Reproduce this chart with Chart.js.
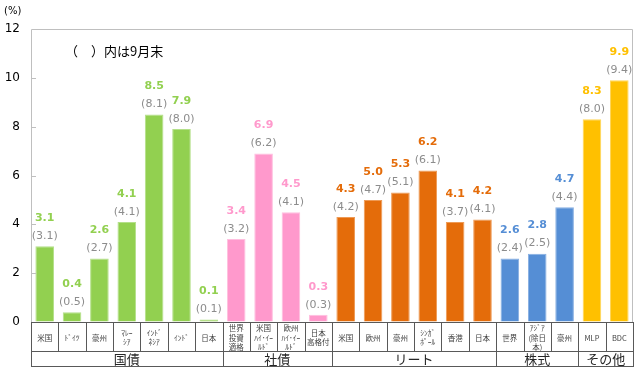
<!DOCTYPE html>
<html>
<head>
<meta charset="utf-8">
<script src="https://cdn.jsdelivr.net/npm/chart.js@4"></script>
<style>
  html, body { margin: 0; padding: 0; background: #fff; }
  #wrap { width: 640px; height: 372px; }
</style>
</head>
<body>
<div id="wrap"><canvas id="grafico"></canvas></div>
<script>
// categorias (linhas quebradas como no original)
var categorias = [
  ['米国'], ['ﾄﾞｲﾂ'], ['豪州'], ['ﾏﾚｰ', 'ｼｱ'], ['ｲﾝﾄﾞ', 'ﾈｼｱ'], ['ｲﾝﾄﾞ'], ['日本'],
  ['世界', '投資', '適格'], ['米国', 'ﾊｲ･ｲｰ', 'ﾙﾄﾞ'], ['欧州', 'ﾊｲ･ｲｰ', 'ﾙﾄﾞ'], ['日本', '高格付'],
  ['米国'], ['欧州'], ['豪州'], ['ｼﾝｶﾞ', 'ﾎﾟｰﾙ'], ['香港'], ['日本'],
  ['世界'], ['ｱｼﾞｱ', '(除日', '本)'], ['豪州'],
  ['MLP'], ['BDC']
];
var grupos = ['国債', '社債', 'リート', '株式', 'その他'];
var tamanhoGrupos = [7, 4, 6, 3, 2];
var coresGrupos = ['#92D050', '#FF99CC', '#E46C0A', '#558ED5', '#FFC000'];
var bordasGrupos = ['#B4E08A', '#FFBFDF', '#EE9A55', '#86AEE2', '#FFD659'];

var valoresAtuais = [3.1, 0.4, 2.6, 4.1, 8.5, 7.9, 0.1,
  3.4, 6.9, 4.5, 0.3,
  4.3, 5.0, 5.3, 6.2, 4.1, 4.2,
  2.6, 2.8, 4.7,
  8.3, 9.9];
var valoresSetembro = [3.1, 0.5, 2.7, 4.1, 8.1, 8.0, 0.1,
  3.2, 6.2, 4.1, 0.3,
  4.2, 4.7, 5.1, 6.1, 3.7, 4.1,
  2.4, 2.5, 4.4,
  8.0, 9.4];
var ticksY = [0, 2, 4, 6, 8, 10, 12];

var cores = [];
var bordas = [];
var grupoDe = [];
for (var g = 0; g < grupos.length; g++) {
  for (var k = 0; k < tamanhoGrupos[g]; k++) {
    cores.push(coresGrupos[g]);
    bordas.push(bordasGrupos[g]);
    grupoDe.push(g);
  }
}

var fonteJP = '"Noto Sans CJK JP", "Noto Sans", sans-serif';

// rotulos de valor acima das barras
var rotulos = {
  id: 'rotulos',
  afterDatasetsDraw: function (chart) {
    var ctx = chart.ctx;
    var meta = chart.getDatasetMeta(0);
    ctx.save();
    ctx.textAlign = 'center';
    ctx.textBaseline = 'middle';
    for (var i = 0; i < meta.data.length; i++) {
      var bar = meta.data[i];
      ctx.font = '11px "DejaVu Sans", sans-serif';
      ctx.fillStyle = '#8C8C8C';
      ctx.fillText('(' + valoresSetembro[i].toFixed(1) + ')', bar.x, bar.y - 10);
      ctx.font = 'bold 11px "DejaVu Sans", sans-serif';
      ctx.fillStyle = cores[i];
      ctx.fillText(valoresAtuais[i].toFixed(1), bar.x, bar.y - 28);
    }
    ctx.restore();
  }
};

// moldura, marcas do eixo y, tabela de categorias
var moldura = {
  id: 'moldura',
  afterDraw: function (chart) {
    var ctx = chart.ctx;
    var area = chart.chartArea;
    var x = chart.scales.x;
    var y = chart.scales.y;
    ctx.save();
    ctx.lineWidth = 1;

    ctx.strokeStyle = '#BFBFBF';
    ctx.beginPath();
    ctx.moveTo(area.left + 0.5, area.bottom);
    ctx.lineTo(area.left + 0.5, area.top + 0.5);
    ctx.lineTo(area.right - 0.5, area.top + 0.5);
    ctx.lineTo(area.right - 0.5, area.bottom);
    ctx.stroke();

    ctx.beginPath();
    for (var t = 1; t < ticksY.length - 1; t++) {
      var py = Math.round(y.getPixelForValue(ticksY[t])) + 0.5;
      ctx.moveTo(area.left, py);
      ctx.lineTo(area.left + 5, py);
    }
    ctx.stroke();

    var meio = x.getPixelForValue(1) - x.getPixelForValue(0);
    var topo = area.bottom;
    var linha1 = x.top + 29;
    var baixo = x.bottom;
    ctx.strokeStyle = '#595959';
    ctx.beginPath();
    for (var i = 0; i <= categorias.length; i++) {
      var px = Math.round(x.getPixelForValue(i) - meio / 2) + 0.5;
      var fimGrupo = (i === 0 || i === categorias.length || grupoDe[i] !== grupoDe[i - 1]);
      ctx.moveTo(px, topo);
      ctx.lineTo(px, fimGrupo ? baixo : linha1);
    }
    var esq = Math.round(x.getPixelForValue(0) - meio / 2);
    var dir = Math.round(x.getPixelForValue(categorias.length - 1) + meio / 2) + 1;
    ctx.moveTo(esq, linha1 + 0.5);
    ctx.lineTo(dir, linha1 + 0.5);
    ctx.moveTo(esq, baixo - 0.5);
    ctx.lineTo(dir, baixo - 0.5);
    ctx.stroke();

    ctx.fillStyle = '#262626';
    ctx.font = '13px ' + fonteJP;
    ctx.textAlign = 'center';
    ctx.textBaseline = 'middle';
    var inicio = 0;
    for (var g = 0; g < grupos.length; g++) {
      var fim = inicio + tamanhoGrupos[g] - 1;
      var cx = (x.getPixelForValue(inicio) + x.getPixelForValue(fim)) / 2;
      ctx.fillText(grupos[g], cx, (linha1 + baixo) / 2);
      inicio = fim + 1;
    }

    ctx.fillStyle = '#000';
    ctx.font = '10px "DejaVu Sans", sans-serif';
    ctx.textAlign = 'left';
    ctx.fillText('(%)', 4, 11);
    ctx.font = '13px ' + fonteJP;
    ctx.fillText('（　）内は9月末', area.left + 34, area.top + 22);
    ctx.restore();
  }
};

new Chart(document.getElementById('grafico'), {
  type: 'bar',
  data: {
    labels: categorias,
    datasets: [{
      label: '利回り',
      data: valoresAtuais,
      backgroundColor: cores,
      borderColor: bordas,
      borderWidth: 1,
      barPercentage: 0.68,
      categoryPercentage: 1.0
    }]
  },
  options: {
    responsive: true,
    maintainAspectRatio: false,
    animation: false,
    layout: { padding: { top: 29, right: 7, bottom: 5, left: 0 } },
    plugins: {
      legend: { display: false },
      tooltip: { enabled: false }
    },
    scales: {
      x: {
        afterFit: function (s) { s.height = 45; },
        grid: { drawOnChartArea: false, drawTicks: false },
        border: { display: true, color: '#595959' },
        ticks: {
          autoSkip: false,
          maxRotation: 0,
          minRotation: 0,
          crossAlign: 'center',
          padding: 6,
          color: '#404040',
          font: { family: fonteJP, size: 7.5, lineHeight: 1.3 }
        }
      },
      y: {
        min: 0,
        max: 12,
        afterFit: function (s) { s.width = 31; },
        afterBuildTicks: function (s) {
          s.ticks = ticksY.map(function (v) { return { value: v }; });
        },
        grid: { drawOnChartArea: false, drawTicks: false },
        border: { display: false },
        ticks: {
          padding: 11,
          color: '#000',
          font: { family: '"DejaVu Sans", sans-serif', size: 12 }
        }
      }
    }
  },
  plugins: [rotulos, moldura]
});
</script>
</body>
</html>
